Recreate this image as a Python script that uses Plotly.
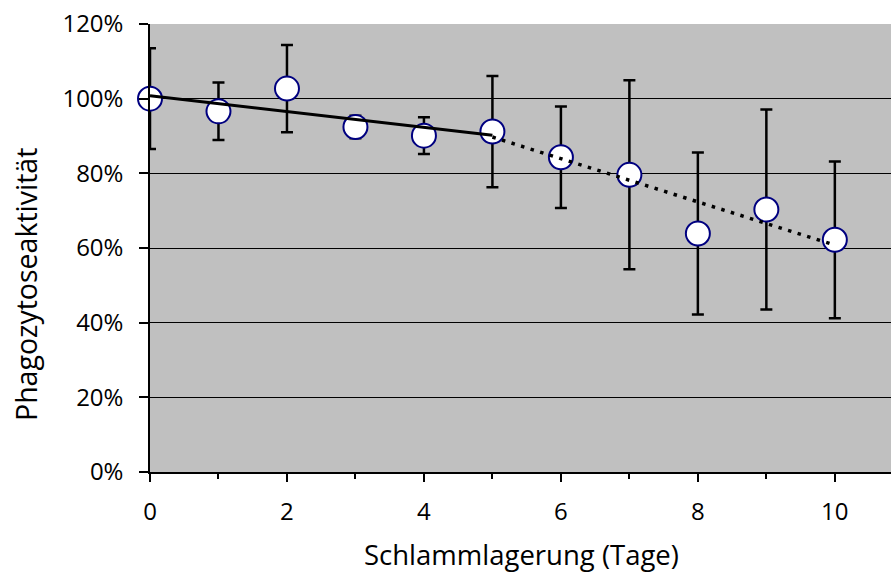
import numpy as np
import plotly.graph_objects as go

# Data
days = [0, 1, 2, 3, 4, 5, 6, 7, 8, 9, 10]
activity = [1.000, 0.966, 1.027, 0.924, 0.901, 0.912, 0.843, 0.796, 0.639, 0.703, 0.622]
error = [0.135, 0.077, 0.117, 0.03, 0.049, 0.149, 0.136, 0.253, 0.217, 0.268, 0.210]
y_tickvals = [0, 0.2, 0.4, 0.6, 0.8, 1.0, 1.2]
x_tickvals = [0, 2, 4, 6, 8, 10]

# linear trendlines (first segment days 0-5, second days 5-10)
x1 = np.array(days[:6]); y1 = np.array(activity[:6])
x2 = np.array(days[5:]); y2 = np.array(activity[5:])
p1 = np.polyfit(x1, y1, 1)
p2 = np.polyfit(x2, y2, 1)
t1x = [x1.min(), x1.max()]
t2x = [x2.min(), x2.max()]

FONT = "Open Sans"
W, H = 891, 574
ML, MR, MT, MB = 150, 0, 24, 102
PW, PH = W - ML - MR, H - MT - MB

fig = go.Figure()
fig.add_trace(go.Scatter(
    x=days, y=activity, mode="markers", cliponaxis=False,
    marker=dict(size=24, color="white", line=dict(color="#000080", width=2)),
    error_y=dict(type="data", array=error, visible=True, color="black",
                 thickness=2.5, width=6),
    showlegend=False, hoverinfo="skip"))
fig.add_trace(go.Scatter(
    x=t1x, y=list(np.polyval(p1, t1x)), mode="lines", cliponaxis=False,
    line=dict(color="black", width=3), showlegend=False))
fig.add_trace(go.Scatter(
    x=t2x, y=list(np.polyval(p2, t2x)), mode="lines", cliponaxis=False,
    line=dict(color="black", width=3.5, dash="3.5px,6.5px"), showlegend=False))

fig.update_layout(
    width=W, height=H,
    margin=dict(l=ML, r=MR, t=MT, b=MB, pad=0),
    paper_bgcolor="white", plot_bgcolor="#C0C0C0",
    font=dict(family=FONT, color="black", size=24),
)
fig.update_xaxes(
    range=[0, 10.82], tickvals=x_tickvals, showgrid=False, zeroline=False,
    showline=True, linecolor="black", linewidth=2,
    ticks="outside", ticklen=8, tickwidth=1.5, tickcolor="black",
    minor=dict(dtick=1, tick0=0, ticks="outside", ticklen=5, tickwidth=1.5, tickcolor="black"),
    tickfont=dict(size=24), ticklabelstandoff=9,
)
fig.update_yaxes(
    range=[0, 1.2], tickvals=y_tickvals, tickformat=".0%",
    showgrid=True, gridcolor="black", gridwidth=1, zeroline=False,
    showline=True, linecolor="black", linewidth=1.5,
    ticks="outside", ticklen=9, tickwidth=1.5, tickcolor="black",
    tickfont=dict(size=24), ticklabelstandoff=11,
)

def px_x(x):
    return (x - ML) / PW

def px_y(y):
    return (H - MB - y) / PH

fig.add_annotation(text="Schlammlagerung (Tage)", xref="paper", yref="paper",
                   x=px_x(521), y=px_y(554), xanchor="center", yanchor="middle",
                   showarrow=False, font=dict(size=27.5, family=FONT))
fig.add_annotation(text="Phagozytoseaktivität", xref="paper", yref="paper",
                   x=px_x(26), y=px_y(285), xanchor="center", yanchor="middle",
                   textangle=-90, showarrow=False, font=dict(size=28.5, family=FONT))

fig.write_html("out.html")
